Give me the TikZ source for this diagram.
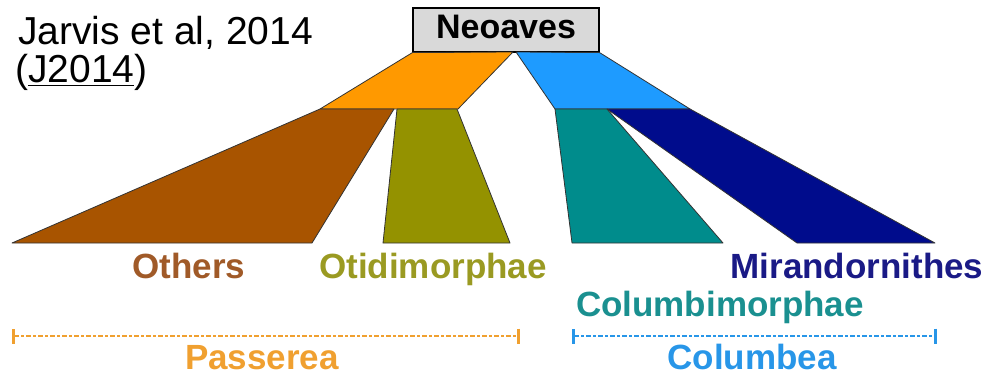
\documentclass[tikz,border=0pt]{standalone}
\usepackage{fontspec}
\setmainfont{Liberation Sans}
\usetikzlibrary{arrows.meta}
\definecolor{neogray}{HTML}{D9D9D9}
\definecolor{passorange}{HTML}{FF9900}
\definecolor{columblue}{HTML}{1E9BFF}
\definecolor{othbrown}{HTML}{A85400}
\definecolor{otidolive}{HTML}{949200}
\definecolor{columteal}{HTML}{008C8C}
\definecolor{mirnavy}{HTML}{000C8C}
\definecolor{othtext}{HTML}{A05A28}
\definecolor{otidtext}{HTML}{9A9A22}
\definecolor{mirtext}{HTML}{1A1A86}
\definecolor{columtext}{HTML}{1A9090}
\definecolor{passtext}{HTML}{F0A030}
\definecolor{coltext}{HTML}{2896E8}
\tikzset{
    clade/.style={draw=black!80, line width=0.8pt, line join=round},
    cladename/.style={font=\fontsize{35}{35}\selectfont\bfseries, anchor=base, inner sep=0pt},
    cladespan/.style={line width=2.6pt, dash pattern=on 5pt off 2pt on 3pt off 2pt,
        {Bar[width=15pt,line width=3pt]}-{Bar[width=15pt,line width=3pt]}}
}
\begin{document}
\begin{tikzpicture}[x=1pt,y=-1pt]
    \useasboundingbox (0,0) rectangle (1003,385);
    %reference
    \node[anchor=base west, inner sep=0pt, font=\fontsize{39}{38}\selectfont] (ref) at (18,45) {Jarvis et al, 2014};
    \node[anchor=base west, inner sep=0pt, font=\fontsize{39}{38}\selectfont] (refkey) at (15,83) {(\underline{J2014})};
    %root box
    \node[draw, line width=1.2pt, fill=neogray, minimum width=186pt, minimum height=44pt,
        inner sep=0pt, text depth=7pt, font=\fontsize{34}{34}\selectfont\bfseries] (neo) at (506,30) {Neoaves};
    %draw clades
    \draw[clade, fill=passorange] (neo.south west) -- (513,52) -- (458,109) -- (320,109) -- cycle;
    \draw[clade, fill=columblue] (516,52) -- (neo.south east) -- (690,109) -- (555,109) -- cycle;
    \draw[clade, fill=othbrown] (320,109) -- (394,109) -- (312,243) -- (12,243) -- cycle;
    \draw[clade, fill=otidolive] (397,109) -- (457,109) -- (510,243) -- (383,243) -- cycle;
    \draw[clade, fill=columteal] (555,109) -- (607,109) -- (723,243) -- (572,243) -- cycle;
    \draw[clade, fill=mirnavy] (607,109) -- (690,109) -- (935,243) -- (797,243) -- cycle;
    %draw clade names
    \foreach \name/\x/\y/\col/\txt in {others/189/278/othtext/Others,
        otid/433/278/otidtext/Otidimorphae,
        mir/857/278/mirtext/Mirandornithes,
        columb/720/316/columtext/Columbimorphae}
        {%
            \node[cladename, text=\col] (\name) at (\x,\y) {\txt};
        }
    %draw spans
    \coordinate (passL) at (12,336);
    \coordinate (passR) at (520,336);
    \coordinate (colL) at (572,336);
    \coordinate (colR) at (937,336);
    \draw[cladespan, passtext] (passL) -- (passR);
    \draw[cladespan, coltext] (colL) -- (colR);
    \node[cladename, text=passtext] (passerea) at (262,369) {Passerea};
    \node[cladename, text=coltext] (columbea) at (752,369) {Columbea};
\end{tikzpicture}
\end{document}
